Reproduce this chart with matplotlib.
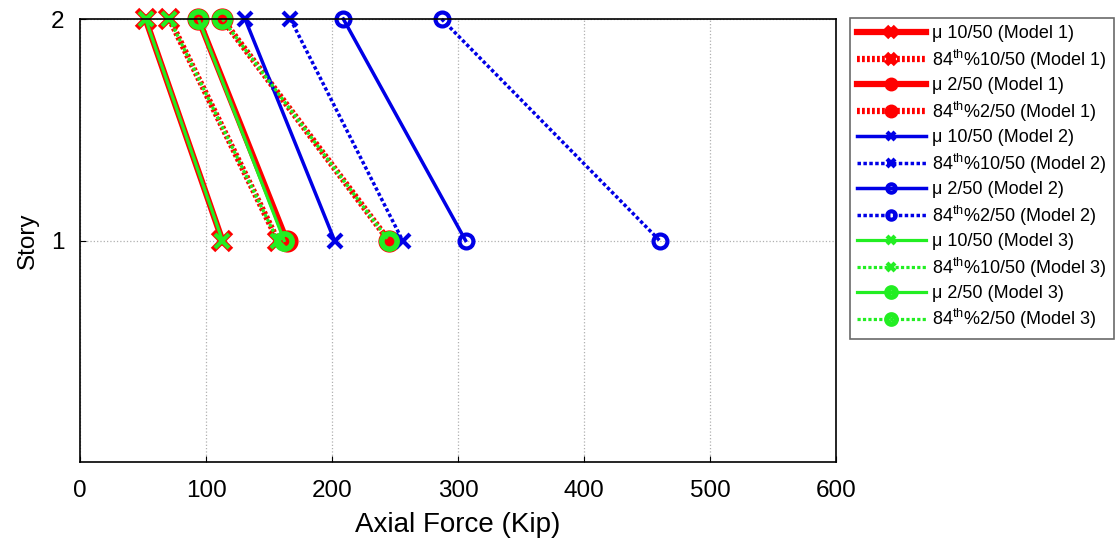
import matplotlib.pyplot as plt

plt.rcParams['font.family'] = ['Liberation Sans', 'DejaVu Sans']
plt.rcParams['mathtext.fontset'] = 'custom'
plt.rcParams['mathtext.rm'] = 'Liberation Sans'
plt.rcParams['mathtext.it'] = 'Liberation Sans:italic'

stories = [2, 1]

# axial force (kip) at stories 2 and 1
m1_mu_10 = [52, 113]
m1_84_10 = [71, 157]
m1_mu_2 = [94, 164]
m1_84_2 = [113, 245]

m2_mu_10 = [131, 202]
m2_84_10 = [167, 256]
m2_mu_2 = [209, 306]
m2_84_2 = [287, 460]

m3_mu_10 = [52, 113]
m3_84_10 = [71, 157]
m3_mu_2 = [94, 162]
m3_84_2 = [113, 245]

labels = [
    "\u03bc 10/50 (Model 1)", r"84$^{\rm th}$%10/50 (Model 1)",
    "\u03bc 2/50 (Model 1)", r"84$^{\rm th}$%2/50 (Model 1)",
    "\u03bc 10/50 (Model 2)", r"84$^{\rm th}$%10/50 (Model 2)",
    "\u03bc 2/50 (Model 2)", r"84$^{\rm th}$%2/50 (Model 2)",
    "\u03bc 10/50 (Model 3)", r"84$^{\rm th}$%10/50 (Model 3)",
    "\u03bc 2/50 (Model 3)", r"84$^{\rm th}$%2/50 (Model 3)",
]

fig = plt.figure(figsize=(11.19, 5.46), dpi=100)
ax = fig.add_axes([80 / 1119, 1 - 462 / 546, 756 / 1119, 443 / 546])

red = "#ff0000"
blue = "#0000e6"
green = "#22ee22"
red_dot = (0, (0.45, 0.35))
thin_dot = (0, (1.0, 0.7))

# model 1: thick red
ax.plot(m1_mu_10, stories, color=red, lw=4.5, ls="-", marker="x", ms=13, mew=4.5, clip_on=False, label=labels[0])
ax.plot(m1_84_10, stories, color=red, lw=4.5, ls=red_dot, marker="x", ms=13, mew=4.5, clip_on=False, label=labels[1])
ax.plot(m1_mu_2, stories, color=red, lw=4.5, ls="-", marker="o", ms=15, clip_on=False, label=labels[2])
ax.plot(m1_84_2, stories, color=red, lw=4.5, ls=red_dot, marker="o", ms=15, clip_on=False, label=labels[3])

# model 2: blue
ax.plot(m2_mu_10, stories, color=blue, lw=2.5, ls="-", marker="x", ms=10, mew=3, clip_on=False, label=labels[4])
ax.plot(m2_84_10, stories, color=blue, lw=2.5, ls=thin_dot, marker="x", ms=10, mew=3, clip_on=False, label=labels[5])
ax.plot(m2_mu_2, stories, color=blue, lw=2.5, ls="-", marker="o", ms=10, mew=3, mfc="none", clip_on=False, label=labels[6])
ax.plot(m2_84_2, stories, color=blue, lw=2.5, ls=thin_dot, marker="o", ms=10, mew=3, mfc="none", clip_on=False, label=labels[7])

# model 3: green on top of model 1
ax.plot(m3_mu_10, stories, color=green, lw=2.3, ls="-", marker="x", ms=10, mew=3, clip_on=False, label=labels[8])
ax.plot(m3_84_10, stories, color=green, lw=2.3, ls=thin_dot, marker="x", ms=10, mew=3, clip_on=False, label=labels[9])
ax.plot(m3_mu_2, stories, color=green, lw=2.3, ls="-", marker="o", ms=11, mew=4, mfc="none", clip_on=False, label=labels[10])
ax.plot(m3_84_2, stories, color=green, lw=2.3, ls=thin_dot, marker="o", ms=11, mew=4, mfc="none", clip_on=False, label=labels[11])

ax.set_xlim(0, 600)
ax.set_ylim(0, 2)
ax.set_xticks(range(0, 601, 100))
ax.set_yticks([1, 2])
ax.grid(True, ls=":", color="#b0b0b0", lw=0.9)
ax.tick_params(labelsize=17.5, direction="in", length=4, pad=13)
ax.set_xlabel("Axial Force (Kip)", fontsize=20, labelpad=7)
ax.set_ylabel("Story", fontsize=17.5, labelpad=9)
ax.tick_params(axis="y", pad=11)
for s in ax.spines.values():
    s.set_linewidth(1.2)

leg = ax.legend(loc="upper left", bbox_to_anchor=(1.018, 1.003), fontsize=13,
                handlelength=3.8, handletextpad=0.35, markerscale=0.6,
                frameon=True, fancybox=False, edgecolor="#444444",
                borderaxespad=0, labelspacing=0.3, borderpad=0.42)
leg.get_frame().set_linewidth(1.2)

fig.savefig("out.png", dpi=100)
